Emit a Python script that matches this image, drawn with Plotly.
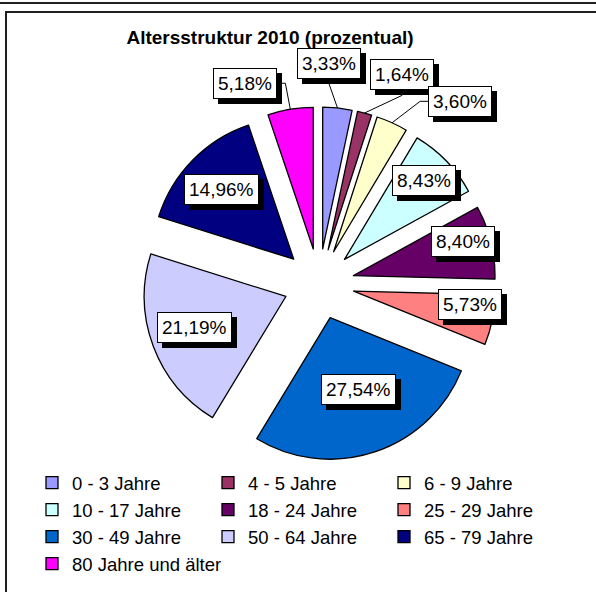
import math
import plotly.graph_objects as go

# ---------------- data ----------------
categories = ["0 - 3 Jahre", "4 - 5 Jahre", "6 - 9 Jahre", "10 - 17 Jahre",
              "18 - 24 Jahre", "25 - 29 Jahre", "30 - 49 Jahre", "50 - 64 Jahre",
              "65 - 79 Jahre", "80 Jahre und älter"]
percent = [3.33, 1.64, 3.60, 8.43, 8.40, 5.73, 27.54, 21.19, 14.96, 5.18]
title_text = "Altersstruktur 2010 (prozentual)"

# ---------------- style / layout ----------------
colors = ["#9999FF", "#993366", "#FFFFCC", "#CCFFFF", "#660066",
          "#FF8080", "#0066CC", "#CCCCFF", "#000080", "#FF00FF"]
W, H = 596, 592
FONT = "Arial, Liberation Sans, sans-serif"
LABEL_FS = 19
PULL = 0.25
dom_x = [142 / W, 496 / W]
dom_y = [1 - 461 / H, 1 - 107 / H]
# label placement: distance from pie centre (in pie radii) and angle nudge (deg)
label_dist = [1.56, 1.59, 1.63, 1.04, 1.06, 1.08, 0.80, 0.93, 0.96, 1.51]
label_nudge = [-3.4, 6.8, 13.3, -0.6, -2.9, -3.9, -2.3, 1.2, -0.4, -10.8]
outside = [True, True, True, False, False, False, False, False, False, True]
PAD = 4
SHADOW = 5

fig = go.Figure(go.Pie(
    labels=categories, values=percent, sort=False, direction="clockwise",
    rotation=0, pull=[PULL] * len(percent),
    marker=dict(colors=colors, line=dict(color="#000000", width=1.3)),
    textinfo="none", hoverinfo="label+percent",
    domain=dict(x=dom_x, y=dom_y),
))

# pie geometry in pixels (mirrors plotly's pie layout rule)
cx = W * (dom_x[0] + dom_x[1]) / 2
cy = H * (1 - (dom_y[0] + dom_y[1]) / 2)
R = min(W * (dom_x[1] - dom_x[0]), H * (dom_y[1] - dom_y[0])) / (2 + 2 * PULL)


def px(x, y):
    return x / W, 1 - y / H


def text_w(s, fs):
    wmap = {",": 0.278, "%": 0.889}
    return sum(wmap.get(ch, 0.556) for ch in s) * fs


total = sum(percent)
cum = 0.0
annotations = []
shapes = []
for i, v in enumerate(percent):
    mid = (cum + v / 2) / total * 360.0
    cum += v
    ang = math.radians(mid + label_nudge[i])
    lx = cx + label_dist[i] * R * math.sin(ang)
    ly = cy - label_dist[i] * R * math.cos(ang)
    txt = f"{v:.2f}".replace(".", ",") + "%"
    hw = text_w(txt, LABEL_FS) / 2 + PAD + 1
    hh = 1.3 * LABEL_FS / 2 + PAD + 1
    if outside[i]:
        a0 = math.radians(mid)
        sx = cx + (1 + PULL) * R * math.sin(a0)
        sy = cy - (1 + PULL) * R * math.cos(a0)
        if lx - hw - 10 <= sx <= lx + hw + 10:
            pts = [(sx, sy), (lx, ly + hh + 3)]
        else:
            side = 1 if sx > lx else -1
            pts = [(sx, sy), (lx + side * (hw + 8), ly), (lx + side * hw, ly)]
        path = "M " + " L ".join(f"{x / W:.5f},{1 - y / H:.5f}" for x, y in pts)
        shapes.append(dict(type="path", xref="paper", yref="paper", path=path,
                           line=dict(color="black", width=1)))
    x0, y0 = px(lx, ly)
    common = dict(xref="paper", yref="paper", x=x0, y=y0, xanchor="center",
                  yanchor="middle", showarrow=False, borderwidth=1, borderpad=PAD,
                  font=dict(family=FONT, size=LABEL_FS, color="black"))
    annotations.append(dict(text=txt, bgcolor="black", bordercolor="black",
                            xshift=SHADOW, yshift=-SHADOW, **common))
    annotations.append(dict(text=txt, bgcolor="white", bordercolor="black", **common))

# frame lines
shapes += [
    dict(type="line", xref="paper", yref="paper", x0=0, x1=1, y0=1 - 3 / H, y1=1 - 3 / H,
         line=dict(color="#202020", width=2)),
    dict(type="line", xref="paper", yref="paper", x0=5 / W, x1=1, y0=1 - 12 / H, y1=1 - 12 / H,
         line=dict(color="#202020", width=2)),
    dict(type="line", xref="paper", yref="paper", x0=6 / W, x1=6 / W, y0=0, y1=1 - 12 / H,
         line=dict(color="#202020", width=2)),
]

fig.update_layout(
    width=W, height=H, margin=dict(l=0, r=0, t=0, b=0),
    paper_bgcolor="white", plot_bgcolor="white",
    font=dict(family=FONT, color="black"),
    title=dict(text="<b>" + title_text + "</b>", x=270 / W, xanchor="center",
               y=1 - 37 / H, yanchor="middle", yref="container",
               font=dict(family=FONT, size=19, color="black")),
    showlegend=True,
    legend=dict(orientation="h", x=32 / W, xanchor="left", y=1 - 464 / H, yanchor="top",
                entrywidth=131, font=dict(family=FONT, size=18.5, color="black"),
                traceorder="normal", bgcolor="rgba(0,0,0,0)"),
    annotations=annotations, shapes=shapes,
)

fig.write_html("out.html", config={"displayModeBar": False},
               post_script="document.body.style.margin='0px';")
